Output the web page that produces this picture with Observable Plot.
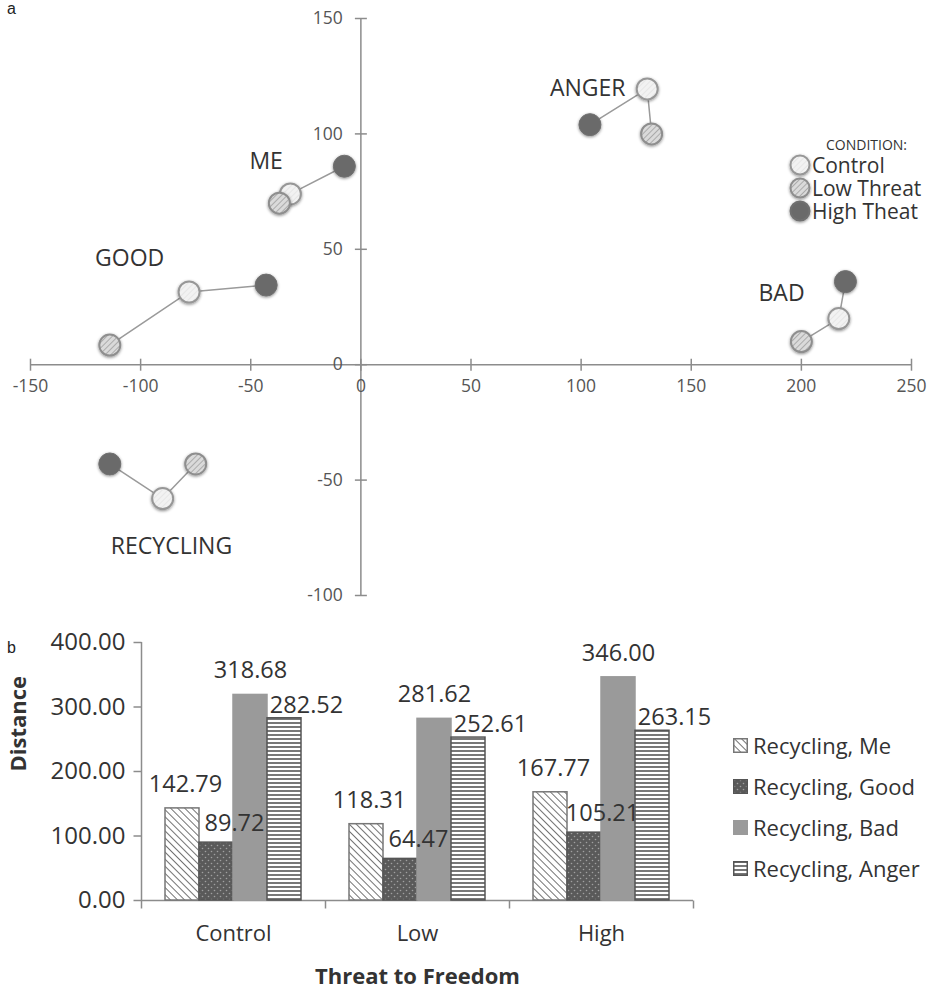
<!DOCTYPE html>
<html><head><meta charset="utf-8">
<script src="https://cdn.jsdelivr.net/npm/d3@7"></script>
<script src="https://cdn.jsdelivr.net/npm/@observablehq/plot@0.6"></script>
<style>
body{margin:0;background:#fff;font-family:"Open Sans",sans-serif;}
#wrap{position:relative;width:937px;height:988px;overflow:hidden;background:#fff;}
.abs{position:absolute;white-space:nowrap;}
#pa,#pb{position:absolute;left:0;}
#pa{top:0;} #pb{top:610px;}
.leg{position:absolute;display:flex;align-items:center;color:#333;white-space:nowrap;}
.lt{display:inline-block;overflow:visible;}
</style></head><body>
<svg width="0" height="0" style="position:absolute">
<defs>
<pattern id="pCtrl" patternUnits="userSpaceOnUse" width="4" height="4" patternTransform="rotate(45)"><rect width="4" height="4" fill="#f2f2f2"/><line x1="0" y1="0" x2="0" y2="4" stroke="#dedede" stroke-width="1.2"/></pattern>
<pattern id="pLow" patternUnits="userSpaceOnUse" width="4" height="4" patternTransform="rotate(45)"><rect width="4" height="4" fill="#dadada"/><line x1="0" y1="0" x2="0" y2="4" stroke="#979797" stroke-width="1.4"/></pattern>
<pattern id="pMe" patternUnits="userSpaceOnUse" width="5" height="5" patternTransform="rotate(-45)"><rect width="5" height="5" fill="#fff"/><line x1="0" y1="0" x2="0" y2="5" stroke="#444" stroke-width="1.5"/></pattern>
<pattern id="pGood" patternUnits="userSpaceOnUse" width="6" height="6"><rect width="6" height="6" fill="#5a5a5a"/><circle cx="1.5" cy="1.5" r="0.8" fill="#a0a0a0"/><circle cx="4.5" cy="4.5" r="0.8" fill="#a0a0a0"/></pattern>
<pattern id="pAnger" patternUnits="userSpaceOnUse" width="4" height="4"><rect width="4" height="4" fill="#fff"/><line x1="0" y1="1" x2="4" y2="1" stroke="#555" stroke-width="1.6"/></pattern>
<filter id="sh" x="-60%" y="-60%" width="220%" height="220%"><feDropShadow dx="0" dy="1" stdDeviation="1.8" flood-color="#000" flood-opacity="0.45"/></filter>
</defs></svg>
<div id="wrap"><div id="pa"></div><div id="pb"></div></div>
<script>
// ---------- Panel a data ----------
const concepts = ["ME", "GOOD", "BAD", "ANGER", "RECYCLING"];
const controlX = [-32, -78, 217, 130, -90];
const controlY = [74, 31.5, 20, 119.5, -58];
const lowX = [-37, -114, 200, 132, -75];
const lowY = [70, 8.5, 10, 100, -43];
const highX = [-7.5, -43, 220, 104, -114];
const highY = [86, 34.5, 36, 104, -43];
const labelX = [-43, -105, 191, 103, -86];
const labelY = [88, 46, 31, 119.5, -79];
const xTicksA = [-150, -100, -50, 0, 50, 100, 150, 200, 250];
const yTicksA = [-100, -50, 0, 50, 100, 150];
const conditionNames = ["Control", "Low Threat", "High Theat"];

// ---------- Panel b data ----------
const threat = ["Control", "Low", "High"];
const series = ["Recycling, Me", "Recycling, Good", "Recycling, Bad", "Recycling, Anger"];
const me = [142.79, 118.31, 167.77];
const good = [89.72, 64.47, 105.21];
const bad = [318.68, 281.62, 346.00];
const anger = [282.52, 252.61, 263.15];
const yTicksB = [0, 100, 200, 300, 400];

// ---------- helpers ----------
const vTick = {draw(c, size){ const r = Math.sqrt(size/Math.PI); c.moveTo(0,-r); c.lineTo(0,r); }};
const hTick = {draw(c, size){ const r = Math.sqrt(size/Math.PI); c.moveTo(-r,0); c.lineTo(r,0); }};
const downTick = {draw(c, size){ const r = Math.sqrt(size/Math.PI); c.moveTo(0,0); c.lineTo(0,r); }};

const pts = [];
concepts.forEach((c, i) => {
  pts.push({concept: c, cond: "Low Threat", x: lowX[i], y: lowY[i]});
  pts.push({concept: c, cond: "Control", x: controlX[i], y: controlY[i]});
  pts.push({concept: c, cond: "High Theat", x: highX[i], y: highY[i]});
});
const axisGray = "#8c8c8c";

const plotA = Plot.plot({
  width: 937, height: 610,
  marginLeft: 30, marginRight: 26, marginTop: 18, marginBottom: 15,
  x: {domain: [-150, 250], axis: null},
  y: {domain: [-100, 150], axis: null},
  style: {fontFamily: "'Open Sans', sans-serif", background: "transparent"},
  marks: [
    Plot.ruleY([0], {x1: -150, x2: 250, stroke: axisGray, strokeWidth: 1.5}),
    Plot.ruleX([0], {y1: -100, y2: 150, stroke: axisGray, strokeWidth: 1.5}),
    Plot.dot(xTicksA, {x: d => d, y: 0, symbol: vTick, r: 6, stroke: axisGray, strokeWidth: 1.5, fill: "none"}),
    Plot.dot(yTicksA, {x: 0, y: d => d, symbol: hTick, r: 6, stroke: axisGray, strokeWidth: 1.5, fill: "none"}),
    Plot.text(xTicksA, {x: d => d, y: 0, text: d => String(d), dy: 22, fontSize: 17.5, fill: "#555"}),
    Plot.text(yTicksA, {x: 0, y: d => d, text: d => String(d), textAnchor: "end", dx: -18, fontSize: 17.5, fill: "#555"}),
    Plot.line(pts, {x: "x", y: "y", z: "concept", stroke: "#9a9a9a", strokeWidth: 1.5}),
    Plot.dot(pts.filter(d => d.cond === "Control"), {x: "x", y: "y", r: 10.5, fill: "url(#pCtrl)", stroke: "#979797", strokeWidth: 2}),
    Plot.dot(pts.filter(d => d.cond === "Low Threat"), {x: "x", y: "y", r: 10.5, fill: "url(#pLow)", stroke: "#8e8e8e", strokeWidth: 2}),
    Plot.dot(pts.filter(d => d.cond === "High Theat"), {x: "x", y: "y", r: 11, fill: "#6b6b6b", stroke: "#707070", strokeWidth: 1}),
    Plot.text(concepts, {x: (d, i) => labelX[i], y: (d, i) => labelY[i], text: d => d, fontSize: 23, fill: "#333"})
  ]
});
plotA.querySelectorAll("circle").forEach(c => c.setAttribute("filter", "url(#sh)"));
document.getElementById("pa").appendChild(plotA);

// ---------- Panel b ----------
const values = [me, good, bad, anger];
const fills = ["url(#pMe)", "url(#pGood)", "#9a9a9a", "url(#pAnger)"];
const strokes = ["#777", "#555", "#9a9a9a", "#555"];
const labDx = [3, 18, 0, 22];
const labDy = [-24, -19, -24, -13];
const band = (937 - 141 - 244) / threat.length;
const barW = 34, gap = (band - barW * series.length) / 2;
const bars = series.map((s, j) => threat.map((t, i) => ({threat: t, series: s, value: values[j][i]})));
const firstCat = () => threat[0];

const marksB = [];
bars.forEach((data, j) => {
  marksB.push(Plot.barY(data, {x: "threat", y: "value", insetLeft: gap + barW * j, insetRight: band - gap - barW * (j + 1), fill: fills[j], stroke: strokes[j], strokeWidth: 1.5}));
});
bars.forEach((data, j) => {
  const off = gap + barW * j + barW / 2 - band / 2;
  marksB.push(Plot.text(data, {x: "threat", y: "value", text: d => d.value.toFixed(2), dx: off + labDx[j], dy: labDy[j], fontSize: 23.5, fill: "#333"}));
});

const plotB = Plot.plot({
  width: 937, height: 378,
  marginLeft: 141, marginRight: 244, marginTop: 32, marginBottom: 88,
  x: {domain: threat, padding: 0, axis: null},
  y: {domain: [0, 400], axis: null},
  style: {fontFamily: "'Open Sans', sans-serif", background: "transparent", overflow: "visible"},
  marks: [
    Plot.ruleY([0], {stroke: axisGray, strokeWidth: 1.5}),
    Plot.dot(threat, {x: d => d, y: 0, dx: -band / 2, symbol: downTick, r: 8, stroke: axisGray, strokeWidth: 1.5, fill: "none"}),
    Plot.dot([threat[threat.length - 1]], {x: d => d, y: 0, dx: band / 2, symbol: downTick, r: 8, stroke: axisGray, strokeWidth: 1.5, fill: "none"}),
    Plot.ruleX([threat[0]], {x: d => d, dx: -band / 2, y1: 0, y2: 400, stroke: axisGray, strokeWidth: 1.5}),
    Plot.dot(yTicksB, {x: firstCat, y: d => d, dx: -band / 2 - 4, symbol: hTick, r: 4, stroke: axisGray, strokeWidth: 1.5, fill: "none"}),
    Plot.text(yTicksB, {x: firstCat, y: d => d, dx: -band / 2 - 16, textAnchor: "end", text: d => d.toFixed(2), fontSize: 24, fill: "#333"}),
    ...marksB,
    Plot.text(threat, {x: d => d, y: 0, dy: 33, text: d => d, fontSize: 22, fill: "#333"}),
    Plot.text(["Distance"], {frameAnchor: "left", text: d => d, rotate: -90, dx: -123, fontSize: 22, fontWeight: "bold", fill: "#333"}),
    Plot.text(["Threat to Freedom"], {frameAnchor: "bottom", text: d => d, dy: 83, fontSize: 22, fontWeight: "bold", fill: "#333"})
  ]
});
document.getElementById("pb").appendChild(plotB);

// ---------- legends & panel letters (HTML text) ----------
const wrap = document.getElementById("wrap");
function addDiv(html, css) { const d = document.createElement("div"); d.className = "abs"; d.style.cssText = css; d.innerHTML = html; wrap.appendChild(d); return d; }
addDiv("a", "left:7px;top:0px;line-height:16px;font:16px 'Liberation Sans',Arial,sans-serif;color:#222;");
addDiv("b", "left:7px;top:639px;line-height:16px;font:16px 'Liberation Sans',Arial,sans-serif;color:#222;");

// panel a legend
addDiv("CONDITION:", "left:826px;top:135px;height:14px;line-height:14px;font:14px 'Open Sans',sans-serif;color:#333;");
const legFill = ["url(#pCtrl)", "url(#pLow)", "#6b6b6b"];
const legStroke = ["#979797", "#8e8e8e", "#707070"];
conditionNames.forEach((n, i) => {
  const d = document.createElement("div");
  d.className = "leg";
  d.style.cssText = `left:789px;top:${165 + i * 22.8 - 10}px;height:20px;line-height:20px;font:21px 'Open Sans',sans-serif;`;
  d.innerHTML = `<svg width="24" height="20" style="overflow:visible"><circle cx="11" cy="10" r="9.5" fill="${legFill[i]}" stroke="${legStroke[i]}" stroke-width="2" filter="url(#sh)"/></svg><span class="lt" style="margin-left:-1px;height:20px;line-height:20px;">${n}</span>`;
  wrap.appendChild(d);
});

// panel b legend
series.forEach((s, j) => {
  const d = document.createElement("div");
  d.className = "leg";
  d.style.cssText = `left:733px;top:${745 + j * 41 - 14}px;height:28px;line-height:28px;font:22px 'Open Sans',sans-serif;`;
  d.innerHTML = `<svg width="15" height="15"><rect x="0.75" y="0.75" width="13.5" height="13.5" fill="${fills[j]}" stroke="${strokes[j]}" stroke-width="1.5"/></svg><span style="margin-left:5px">${s}</span>`;
  wrap.appendChild(d);
});
</script>
</body></html>
